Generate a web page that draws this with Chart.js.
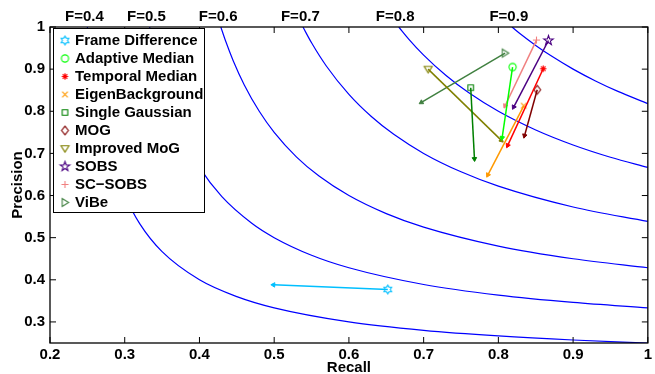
<!DOCTYPE html>
<html>
<head>
<meta charset="utf-8">
<script src="https://cdn.jsdelivr.net/npm/chart.js@4/dist/chart.umd.min.js"></script>
<style>
html,body{margin:0;padding:0;background:#fff;}
#wrap{width:655px;height:374px;position:relative;}
</style>
</head>
<body>
<div id="wrap"><canvas id="c" width="655" height="374"></canvas></div>
<script>
// ---- data ----
const methodNames = ['Frame Difference','Adaptive Median','Temporal Median','EigenBackground','Single Gaussian','MOG','Improved MoG','SOBS','SC\u2212SOBS','ViBe'];
const methodColors = ['rgb(0,191,255)','rgb(0,255,0)','rgb(255,0,0)','rgb(255,153,0)','rgb(0,128,0)','rgb(128,0,0)','rgb(128,128,0)','rgb(75,0,130)','rgb(240,128,128)','rgb(64,128,64)'];
const methodMarkers = ['hexagram','circle','asterisk','x','square','diamond','triangleDown','pentagram','plus','triangleRight'];
const markerRecall    = [0.652, 0.819, 0.860, 0.834, 0.763, 0.852, 0.706, 0.867, 0.851, 0.809];
const markerPrecision = [0.377, 0.905, 0.901, 0.813, 0.856, 0.851, 0.900, 0.968, 0.969, 0.938];
const tailRecall      = [0.499, 0.805, 0.8125, 0.786, 0.768, 0.835, 0.804, 0.8205, 0.809, 0.697];
const tailPrecision   = [0.388, 0.737, 0.719, 0.649, 0.687, 0.742, 0.731, 0.810, 0.813, 0.821];

const xTickValues = [0.2,0.3,0.4,0.5,0.6,0.7,0.8,0.9,1.0];
const xTickLabels = ['0.2','0.3','0.4','0.5','0.6','0.7','0.8','0.9','1'];
const yTickValues = [0.3,0.4,0.5,0.6,0.7,0.8,0.9,1.0];
const yTickLabels = ['0.3','0.4','0.5','0.6','0.7','0.8','0.9','1'];

const fLabels = ['F=0.4','F=0.5','F=0.6','F=0.7','F=0.8','F=0.9'];
const fLabelRecall = [0.246, 0.329, 0.425, 0.535, 0.662, 0.814];

// iso-F curves (recall, precision)
const f04Recall    = [0.25, 0.255, 0.26, 0.27, 0.28, 0.29, 0.30, 0.32, 0.35, 0.40, 0.45, 0.50, 0.60, 0.70, 0.80, 0.90, 1.00];
const f04Precision = [1.0, 0.9273, 0.8667, 0.7714, 0.70, 0.6444, 0.60, 0.5333, 0.4667, 0.40, 0.36, 0.3333, 0.30, 0.28, 0.2667, 0.2571, 0.25];
const f05Recall    = [0.3333, 0.34, 0.35, 0.36, 0.38, 0.40, 0.43, 0.47, 0.50, 0.55, 0.60, 0.70, 0.80, 0.90, 1.00];
const f05Precision = [1.0, 0.9444, 0.875, 0.8182, 0.7308, 0.6667, 0.5972, 0.5341, 0.50, 0.4583, 0.4286, 0.3889, 0.3636, 0.3462, 0.3333];
const f06Recall    = [0.4286, 0.435, 0.445, 0.46, 0.48, 0.50, 0.53, 0.56, 0.60, 0.65, 0.70, 0.80, 0.90, 1.00];
const f06Precision = [1.0, 0.9667, 0.9207, 0.8625, 0.80, 0.75, 0.6913, 0.6462, 0.60, 0.5571, 0.525, 0.48, 0.45, 0.4286];
const f07Recall    = [0.5385, 0.55, 0.57, 0.60, 0.63, 0.66, 0.70, 0.75, 0.80, 0.90, 1.00];
const f07Precision = [1.0, 0.9625, 0.9068, 0.84, 0.7875, 0.7452, 0.70, 0.6563, 0.6222, 0.5727, 0.5385];
const f08Recall    = [0.6667, 0.68, 0.70, 0.73, 0.76, 0.80, 0.85, 0.90, 0.95, 1.00];
const f08Precision = [1.0, 0.9714, 0.9333, 0.8848, 0.8444, 0.80, 0.7556, 0.72, 0.6909, 0.6667];
const f09Recall    = [0.8182, 0.83, 0.85, 0.87, 0.90, 0.93, 0.96, 1.00];
const f09Precision = [1.0, 0.9829, 0.9563, 0.9321, 0.90, 0.8719, 0.8471, 0.8182];

// ---- markers ----
function starPath(g, c, n, R, rin) {
  for (let k = 0; k < 2 * n; k++) {
    const a = -Math.PI / 2 + k * Math.PI / n;
    const rr = (k % 2 === 0) ? R : rin;
    const px = c + rr * Math.cos(a), py = c + rr * Math.sin(a);
    if (k === 0) g.moveTo(px, py); else g.lineTo(px, py);
  }
  g.closePath();
}
function makeMarker(kind, color) {
  const s = 15, c = s / 2, r = 3.6;
  const cv = document.createElement('canvas');
  cv.width = s; cv.height = s;
  const g = cv.getContext('2d');
  g.strokeStyle = color; g.fillStyle = color; g.lineWidth = 1.1;
  g.beginPath();
  switch (kind) {
    case 'circle': g.arc(c, c, r, 0, Math.PI * 2); break;
    case 'square': g.rect(c - 2.8, c - 2.8, 5.6, 5.6); break;
    case 'diamond': g.moveTo(c, c - 4.4); g.lineTo(c + 3.4, c); g.lineTo(c, c + 4.4); g.lineTo(c - 3.4, c); g.closePath(); break;
    case 'triangleDown': g.moveTo(c, c + 3.6); g.lineTo(c - 4.0, c - 2.8); g.lineTo(c + 4.0, c - 2.8); g.closePath(); break;
    case 'triangleRight': g.moveTo(c + 3.6, c); g.lineTo(c - 2.8, c - 4.0); g.lineTo(c - 2.8, c + 4.0); g.closePath(); break;
    case 'pentagram': starPath(g, c, 5, 5.0, 2.0); break;
    case 'hexagram': starPath(g, c, 6, 4.4, 2.55); break;
    case 'plus': g.moveTo(c - r, c); g.lineTo(c + r, c); g.moveTo(c, c - r); g.lineTo(c, c + r); break;
    case 'x': g.moveTo(c - 2.8, c - 2.8); g.lineTo(c + 2.8, c + 2.8); g.moveTo(c + 2.8, c - 2.8); g.lineTo(c - 2.8, c + 2.8); break;
    case 'asterisk':
      for (let k = 0; k < 4; k++) {
        const a = k * Math.PI / 4;
        g.moveTo(c - 3.2 * Math.cos(a), c - 3.2 * Math.sin(a));
        g.lineTo(c + 3.2 * Math.cos(a), c + 3.2 * Math.sin(a));
      }
      break;
  }
  g.stroke();
  return cv;
}
const markerImages = methodMarkers.map((m, i) => makeMarker(m, methodColors[i]));

// ---- datasets ----
const datasets = [];
methodNames.forEach((name, i) => {
  datasets.push({
    label: name,
    data: [{x: markerRecall[i], y: markerPrecision[i]}, {x: tailRecall[i], y: tailPrecision[i]}],
    showLine: true,
    borderColor: methodColors[i],
    backgroundColor: methodColors[i],
    borderWidth: 1.5,
    pointStyle: [markerImages[i], 'triangle'],
    pointRadius: [4, 2.6],
    pointBorderWidth: 1,
    pointBorderColor: methodColors[i],
    pointBackgroundColor: methodColors[i],
    pointRotation: (ctx) => {
      if (ctx.dataIndex !== 1) return 0;
      const d = ctx.chart.data.datasets[ctx.datasetIndex].data;
      const xs = ctx.chart.scales.x, ys = ctx.chart.scales.y;
      const dx = xs.getPixelForValue(d[1].x) - xs.getPixelForValue(d[0].x);
      const dy = ys.getPixelForValue(d[1].y) - ys.getPixelForValue(d[0].y);
      return Math.atan2(dx, -dy) * 180 / Math.PI;
    }
  });
});
const curveSets = [[f04Recall, f04Precision],[f05Recall, f05Precision],[f06Recall, f06Precision],[f07Recall, f07Precision],[f08Recall, f08Precision],[f09Recall, f09Precision]];
curveSets.forEach((cs, k) => {
  datasets.push({
    label: fLabels[k],
    data: cs[0].map((r, j) => ({x: r, y: cs[1][j]})),
    showLine: true,
    borderColor: 'rgb(0,0,255)',
    borderWidth: 1.2,
    pointRadius: 0,
    cubicInterpolationMode: 'monotone'
  });
});

const FONT = {family: '"Liberation Sans", Arial, Helvetica, sans-serif', size: 15, weight: 'bold'};

// ---- plugins ----
const framePlugin = {
  id: 'frame',
  afterDatasetsDraw(chart) {
    const {ctx, chartArea: a, scales} = chart;
    ctx.save();
    ctx.strokeStyle = '#000';
    ctx.lineWidth = 1.3;
    ctx.strokeRect(a.left, a.top, a.right - a.left, a.bottom - a.top);
    const tl = 6;
    ctx.beginPath();
    xTickValues.forEach(v => {
      const px = scales.x.getPixelForValue(v);
      ctx.moveTo(px, a.bottom); ctx.lineTo(px, a.bottom - tl);
      ctx.moveTo(px, a.top); ctx.lineTo(px, a.top + tl);
    });
    yTickValues.forEach(v => {
      const py = scales.y.getPixelForValue(v);
      ctx.moveTo(a.left, py); ctx.lineTo(a.left + tl, py);
      ctx.moveTo(a.right, py); ctx.lineTo(a.right - tl, py);
    });
    ctx.lineWidth = 1;
    ctx.stroke();
    ctx.restore();
  },
  afterDraw(chart) {
    const ctx = chart.ctx;
    ctx.save();
    const bx = 53.5, by = 28.5, bw = 151, bh = 184;
    ctx.fillStyle = '#fff';
    ctx.fillRect(bx, by, bw, bh);
    ctx.strokeStyle = '#000';
    ctx.lineWidth = 1;
    ctx.strokeRect(bx, by, bw, bh);
    ctx.font = 'bold 15px "Liberation Sans", Arial, Helvetica, sans-serif';
    ctx.fillStyle = '#000';
    ctx.textBaseline = 'middle';
    ctx.textAlign = 'left';
    methodNames.forEach((name, i) => {
      const cy = 40.5 + 18 * i;
      const img = markerImages[i];
      ctx.drawImage(img, 65 - img.width / 2, cy - img.height / 2);
      ctx.fillText(name, 75, cy + 0.5);
    });
    ctx.restore();
  }
};

new Chart(document.getElementById('c'), {
  type: 'scatter',
  data: {datasets},
  options: {
    responsive: false,
    animation: false,
    events: [],
    layout: {padding: {left: 0, right: 4, top: 0, bottom: 0}},
    plugins: {legend: {display: false}, tooltip: {enabled: false}},
    scales: {
      x: {
        type: 'linear', position: 'bottom', min: 0.2, max: 1,
        afterBuildTicks: (s) => { s.ticks = xTickValues.map(v => ({value: v})); },
        afterFit: (s) => { s.height = 31; },
        ticks: {autoSkip: false, maxRotation: 0, padding: 3, color: '#000', font: FONT,
          callback: (v) => { const i = xTickValues.findIndex(t => Math.abs(t - v) < 1e-9); return i >= 0 ? xTickLabels[i] : ''; }},
        grid: {display: false, drawTicks: false},
        border: {display: false},
        title: {display: true, text: 'Recall', color: '#000', font: FONT, padding: {top: 0, bottom: -3}}
      },
      x2: {
        type: 'linear', position: 'top', min: 0.2, max: 1,
        afterBuildTicks: (s) => { s.ticks = fLabelRecall.map(v => ({value: v})); },
        afterFit: (s) => { s.height = 27; },
        ticks: {autoSkip: false, maxRotation: 0, padding: 1, color: '#000', font: FONT,
          callback: (v) => { const i = fLabelRecall.findIndex(t => Math.abs(t - v) < 1e-9); return i >= 0 ? fLabels[i] : ''; }},
        grid: {display: false, drawTicks: false},
        border: {display: false}
      },
      y: {
        type: 'linear', position: 'left', min: 0.25, max: 1,
        afterBuildTicks: (s) => { s.ticks = yTickValues.map(v => ({value: v})); },
        afterFit: (s) => { s.width = 50; },
        ticks: {autoSkip: false, padding: 5, color: '#000', font: FONT,
          callback: (v) => { const i = yTickValues.findIndex(t => Math.abs(t - v) < 1e-9); return i >= 0 ? yTickLabels[i] : ''; }},
        grid: {display: false, drawTicks: false},
        border: {display: false},
        title: {display: true, text: 'Precision', color: '#000', font: FONT, padding: {top: 9, bottom: 0}}
      }
    }
  },
  plugins: [framePlugin]
});
</script>
</body>
</html>
